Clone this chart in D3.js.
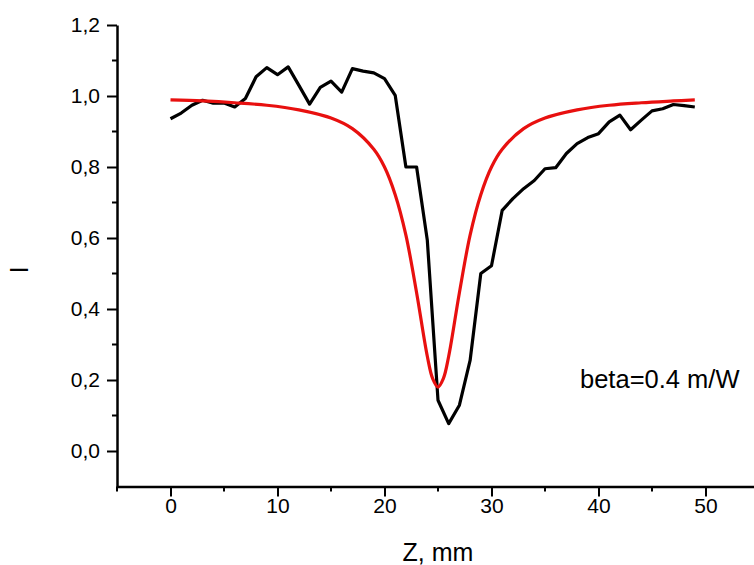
<!DOCTYPE html>
<html><head><meta charset="utf-8">
<script src="https://cdn.jsdelivr.net/npm/d3@7"></script>
<style>body{margin:0;background:#fff}svg{display:block}text{font-family:"Liberation Sans",Arial,sans-serif;fill:#000}</style>
</head><body>
<svg id="c" width="754" height="565"></svg>
<script>
// Measured transmittance (black)
const zMeas = [0,1,2,3,4,5,6,7,8,9,10,11,12,13,14,15,16,17,18,19,20,21,22,23,24,25,26,27,28,29,30,31,32,33,34,35,36,37,38,39,40,41,42,43,44,45,46,47,48,49];
const iMeas = [0.936,0.952,0.974,0.988,0.980,0.980,0.969,0.993,1.054,1.080,1.060,1.082,1.030,0.977,1.024,1.042,1.011,1.077,1.070,1.065,1.049,1.002,0.800,0.800,0.594,0.143,0.077,0.129,0.255,0.500,0.522,0.678,0.711,0.739,0.762,0.795,0.798,0.838,0.866,0.883,0.894,0.927,0.946,0.905,0.932,0.958,0.964,0.976,0.973,0.969];
// Fitted curve (red)
const zFit = [0,3,6,9,12,15,17,19,20,21,22,23,24,24.5,25,25.5,26,27,28,29,30,31,33,35,38,41,44,47,49];
const iFit = [0.989,0.986,0.981,0.974,0.961,0.938,0.908,0.850,0.800,0.722,0.608,0.446,0.267,0.204,0.180,0.204,0.267,0.446,0.608,0.722,0.800,0.850,0.908,0.938,0.961,0.974,0.981,0.986,0.989];
const xTicks = [0,10,20,30,40,50];
const yTicks = [0,0.2,0.4,0.6,0.8,1.0,1.2];
const xLabel = "Z, mm";
const yLabel = "I";
const note = "beta=0.4 m/W";

const svg = d3.select("#c");
const x = d3.scaleLinear().domain([-5,55]).range([117,759]);
const y = d3.scaleLinear().domain([-0.1,1.2]).range([486.5,25]);
const fmt = d => d3.format(".1f")(d).replace(".", ",");

// minor ticks
const xMinor = d3.range(-5,56,10);
const yMinor = d3.range(-0.1,1.2,0.2).filter(v=>v>-0.05);
svg.append("g").selectAll("line").data(xMinor).join("line")
  .attr("x1",d=>x(d)).attr("x2",d=>x(d)).attr("y1",y(-0.1)).attr("y2",y(-0.1)+5)
  .attr("stroke","#000").attr("stroke-width",2);
svg.append("g").selectAll("line").data(yMinor).join("line")
  .attr("y1",d=>y(d)).attr("y2",d=>y(d)).attr("x1",x(-5)).attr("x2",x(-5)-5)
  .attr("stroke","#000").attr("stroke-width",2);

const gx = svg.append("g").attr("transform",`translate(0,${y(-0.1)})`)
  .call(d3.axisBottom(x).tickValues(xTicks).tickSize(10).tickPadding(2).tickSizeOuter(0));
const gy = svg.append("g").attr("transform",`translate(${x(-5)},0)`)
  .call(d3.axisLeft(y).tickValues(yTicks).tickFormat(fmt).tickSize(10).tickPadding(7).tickSizeOuter(0));
[gx,gy].forEach(g=>{
  g.select(".domain").attr("stroke","#000").attr("stroke-width",2.5);
  g.selectAll(".tick line").attr("stroke","#000").attr("stroke-width",2);
  g.selectAll(".tick text").attr("font-size",21).attr("font-family","Liberation Sans, Arial, sans-serif").attr("fill","#000");
});

const line = d3.line().x(d=>x(d[0])).y(d=>y(d[1]));
svg.append("path").datum(zMeas.map((z,i)=>[z,iMeas[i]]))
  .attr("d",line).attr("fill","none").attr("stroke","#000").attr("stroke-width",3.2).attr("stroke-linejoin","round");
svg.append("path").datum(zFit.map((z,i)=>[z,iFit[i]]))
  .attr("d",line.curve(d3.curveCatmullRom)).attr("fill","none").attr("stroke","#e8100f").attr("stroke-width",3.2);

svg.append("text").attr("x",438).attr("y",561).attr("text-anchor","middle").attr("font-size",25).text(xLabel);
svg.append("text").attr("transform","translate(28,270) rotate(-90)").attr("text-anchor","middle").attr("font-size",26).text(yLabel);
svg.append("text").attr("x",580).attr("y",388).attr("font-size",25.5).text(note);
</script>
</body></html>
